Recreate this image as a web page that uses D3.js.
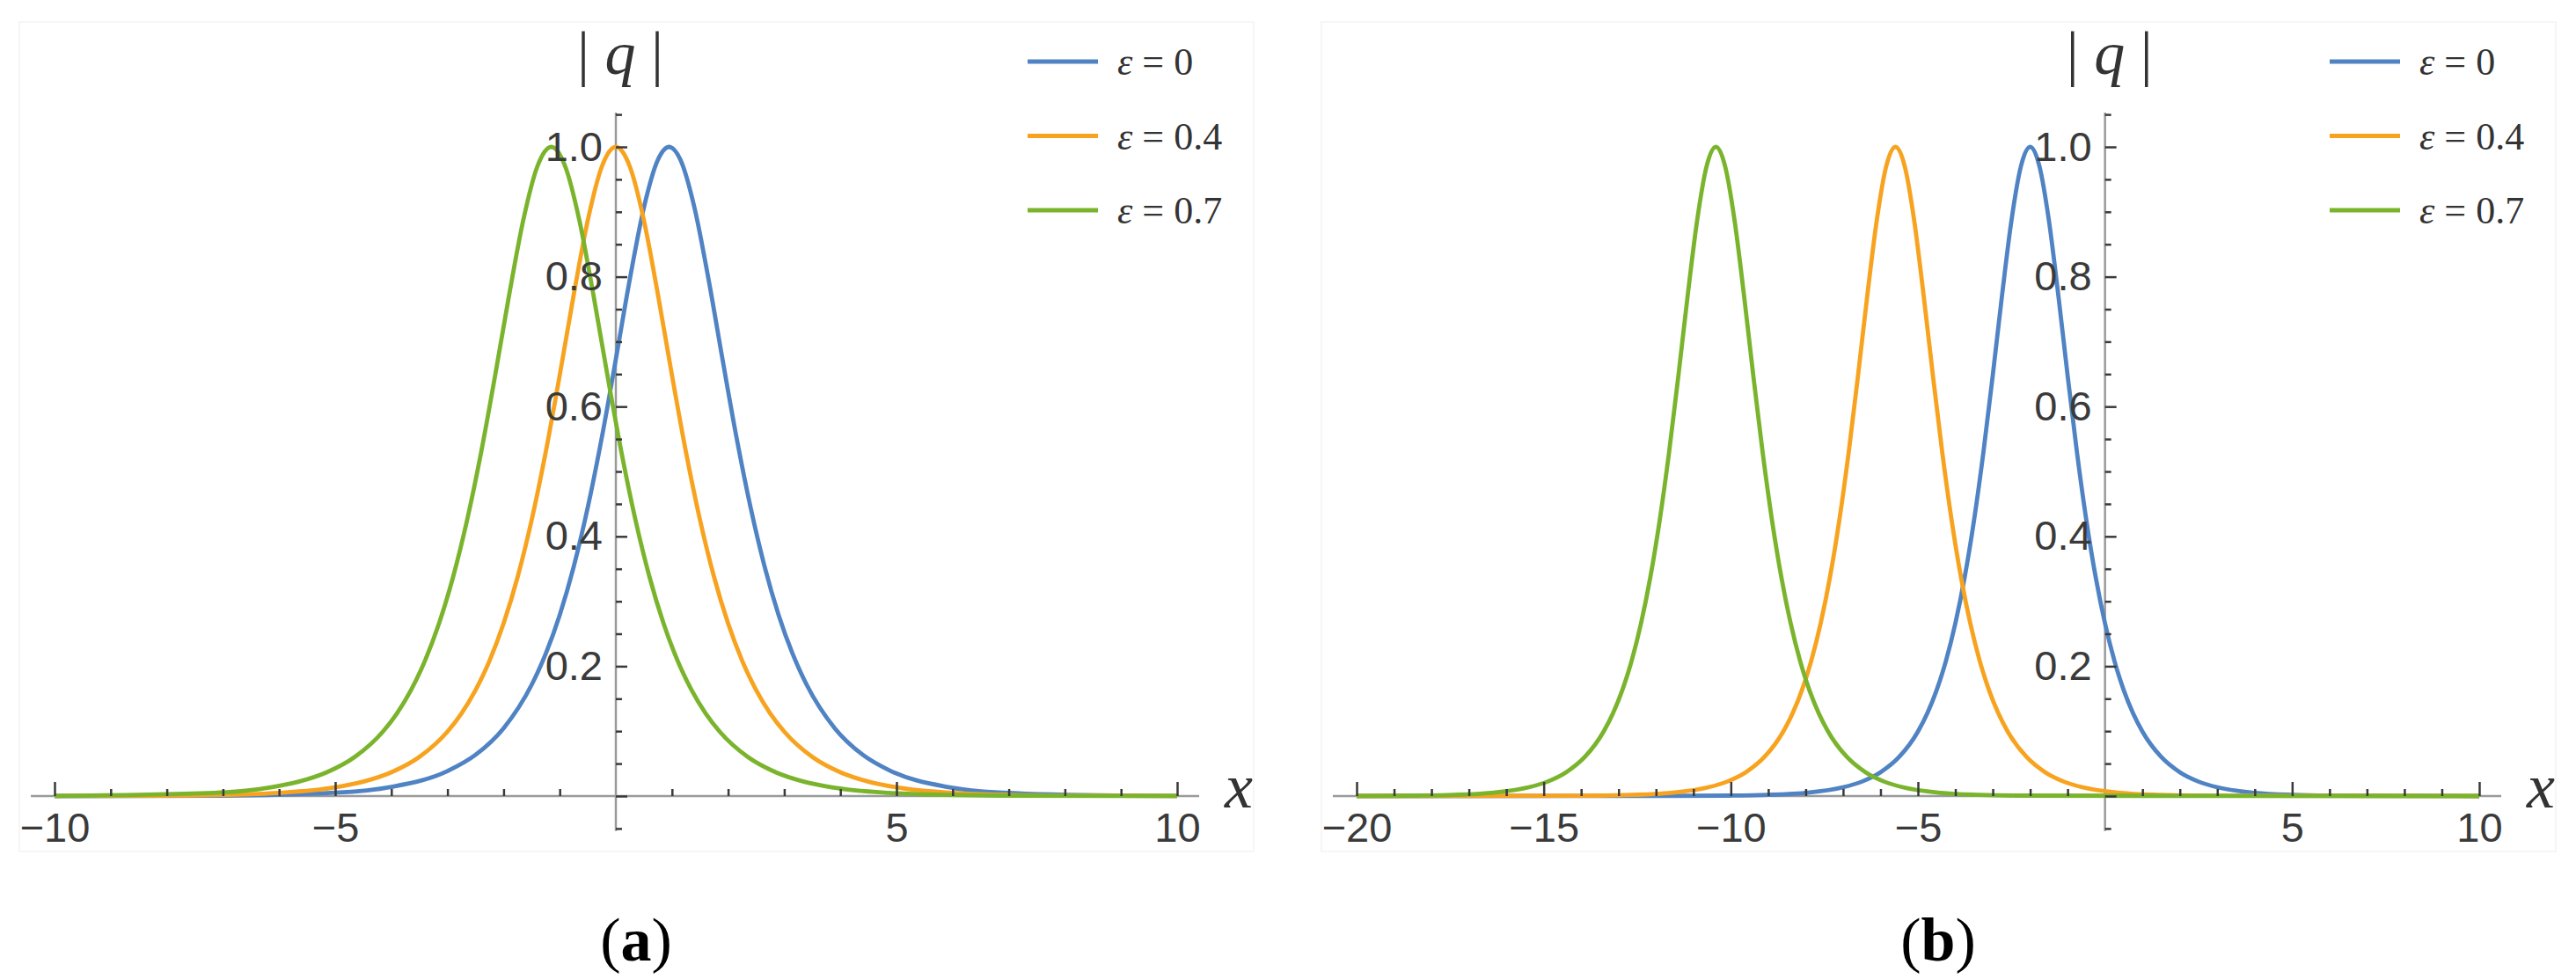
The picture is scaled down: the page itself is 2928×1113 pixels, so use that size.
<!DOCTYPE html>
<html>
<head>
<meta charset="utf-8">
<script src="https://cdn.jsdelivr.net/npm/d3@7/dist/d3.min.js"></script>
<style>
body { margin: 0; background: #fff; }
svg { display: block; background: #fff; }
</style>
</head>
<body>
<svg width="2928" height="1113"></svg>
<script>
var svg = d3.select("svg");

var epsLabels = ["0", "0.4", "0.7"];
var colors = ["#4f83c3", "#f7a31f", "#7ab42d"];
var captions = ["a", "b"];

var xTicksA = [-10, -5, 5, 10];
var xTicksB = [-20, -15, -10, -5, 5, 10];
var yTicks = [0.2, 0.4, 0.6, 0.8, 1.0];

// panel (a): |q|, [x, |q|]
var blueA = [[-10, 0], [-7, 0.0007], [-5, 0.0052], [-4, 0.0142], [-3, 0.0385], [-2.5, 0.0634], [-2, 0.1044], [-1.5, 0.1714],
  [-1.25, 0.2189], [-1, 0.2789], [-0.75, 0.3536], [-0.5, 0.4447], [-0.25, 0.5523], [0, 0.6729], [0.25, 0.7967], [0.5, 0.9066],
  [0.75, 0.9803], [0.95, 1], [1.15, 0.9803], [1.4, 0.9066], [1.65, 0.7967], [1.9, 0.6729], [2.15, 0.5523], [2.4, 0.4447],
  [2.65, 0.3536], [2.9, 0.2789], [3.15, 0.2189], [3.4, 0.1714], [3.9, 0.1044], [4.4, 0.0634], [4.9, 0.0385], [5.9, 0.0142],
  [6.9, 0.0052], [8.9, 0.0007], [10, 0.0002]];
var orangeA = [[-10, 0.0001], [-8, 0.0007], [-7, 0.0018], [-6, 0.005], [-5, 0.0135], [-4.5, 0.0222], [-4, 0.0366], [-3.5, 0.0603],
  [-3, 0.0993], [-2.75, 0.1273], [-2.5, 0.1631], [-2.25, 0.2085], [-2, 0.2658], [-1.75, 0.3374], [-1.5, 0.4251], [-1.25, 0.5295],
  [-1, 0.6481], [-0.75, 0.7724], [-0.5, 0.8868], [-0.25, 0.9695], [0, 1], [0.25, 0.9695], [0.5, 0.8868], [0.75, 0.7724],
  [1, 0.6481], [1.25, 0.5295], [1.5, 0.4251], [1.75, 0.3374], [2, 0.2658], [2.25, 0.2085], [2.5, 0.1631], [2.75, 0.1273],
  [3, 0.0993], [3.5, 0.0603], [4, 0.0366], [4.5, 0.0222], [5, 0.0135], [6, 0.005], [7, 0.0018], [8, 0.0007], [10, 0.0001]];
var greenA = [[-10, 0.0003], [-7.15, 0.005], [-6.15, 0.0135], [-5.65, 0.0222], [-5.15, 0.0366], [-4.65, 0.0603], [-4.15, 0.0993],
  [-3.9, 0.1273], [-3.65, 0.1631], [-3.4, 0.2085], [-3.15, 0.2658], [-2.9, 0.3374], [-2.65, 0.4251], [-2.4, 0.5295],
  [-2.15, 0.6481], [-1.9, 0.7724], [-1.65, 0.8868], [-1.4, 0.9695], [-1.15, 1], [-0.9, 0.9695], [-0.65, 0.8868], [-0.4, 0.7724],
  [-0.15, 0.6481], [0.1, 0.5295], [0.35, 0.4251], [0.6, 0.3374], [0.85, 0.2658], [1.1, 0.2085], [1.35, 0.1631], [1.6, 0.1273],
  [1.85, 0.0993], [2.35, 0.0603], [2.85, 0.0366], [3.35, 0.0222], [3.85, 0.0135], [4.85, 0.005], [5.85, 0.0018], [6.85, 0.0007],
  [10, 0.0001]];

// panel (b)
var blueB = [[-20, 0], [-12, 0.0001], [-10, 0.0007], [-9, 0.0018], [-8, 0.005], [-7, 0.0135], [-6.5, 0.0222], [-6, 0.0366],
  [-5.5, 0.0603], [-5, 0.0993], [-4.75, 0.1273], [-4.5, 0.1631], [-4.25, 0.2085], [-4, 0.2658], [-3.75, 0.3374], [-3.5, 0.4251],
  [-3.25, 0.5295], [-3, 0.6481], [-2.75, 0.7724], [-2.5, 0.8868], [-2.25, 0.9695], [-2, 1], [-1.75, 0.9695], [-1.5, 0.8868],
  [-1.25, 0.7724], [-1, 0.6481], [-0.75, 0.5295], [-0.5, 0.4251], [-0.25, 0.3374], [0, 0.2658], [0.25, 0.2085], [0.5, 0.1631],
  [0.75, 0.1273], [1, 0.0993], [1.5, 0.0603], [2, 0.0366], [2.5, 0.0222], [3, 0.0135], [4, 0.005], [5, 0.0018], [6, 0.0007], [10, 0]];
var orangeB = [[-20, 0], [-13.6, 0.0007], [-12.6, 0.0018], [-11.6, 0.005], [-10.6, 0.0135], [-10.1, 0.0222], [-9.6, 0.0366],
  [-9.1, 0.0603], [-8.6, 0.0993], [-8.35, 0.1273], [-8.1, 0.1631], [-7.85, 0.2085], [-7.6, 0.2658], [-7.35, 0.3374], [-7.1, 0.4251],
  [-6.85, 0.5295], [-6.6, 0.6481], [-6.35, 0.7724], [-6.1, 0.8868], [-5.85, 0.9695], [-5.6, 1], [-5.35, 0.9695], [-5.1, 0.8868],
  [-4.85, 0.7724], [-4.6, 0.6481], [-4.35, 0.5295], [-4.1, 0.4251], [-3.85, 0.3374], [-3.6, 0.2658], [-3.35, 0.2085], [-3.1, 0.1631],
  [-2.85, 0.1273], [-2.6, 0.0993], [-2.1, 0.0603], [-1.6, 0.0366], [-1.1, 0.0222], [-0.6, 0.0135], [0.4, 0.005], [1.4, 0.0018],
  [2.4, 0.0007], [10, 0]];
var greenB = [[-20, 0.0001], [-18.4, 0.0007], [-17.4, 0.0018], [-16.4, 0.005], [-15.4, 0.0135], [-14.9, 0.0222], [-14.4, 0.0366],
  [-13.9, 0.0603], [-13.4, 0.0993], [-13.15, 0.1273], [-12.9, 0.1631], [-12.65, 0.2085], [-12.4, 0.2658], [-12.15, 0.3374],
  [-11.9, 0.4251], [-11.65, 0.5295], [-11.4, 0.6481], [-11.15, 0.7724], [-10.9, 0.8868], [-10.65, 0.9695], [-10.4, 1],
  [-10.15, 0.9695], [-9.9, 0.8868], [-9.65, 0.7724], [-9.4, 0.6481], [-9.15, 0.5295], [-8.9, 0.4251], [-8.65, 0.3374],
  [-8.4, 0.2658], [-8.15, 0.2085], [-7.9, 0.1631], [-7.65, 0.1273], [-7.4, 0.0993], [-6.9, 0.0603], [-6.4, 0.0366],
  [-5.9, 0.0222], [-5.4, 0.0135], [-4.4, 0.005], [-3.4, 0.0018], [-2.4, 0.0007], [10, 0]];

var panels = [
  { series: [blueA, orangeA, greenA], xDomain: [-10, 10], xTicks: xTicksA, left: 22, x0: 62, x1: 1338 },
  { series: [blueB, orangeB, greenB], xDomain: [-20, 10], xTicks: xTicksB, left: 1502, x0: 1542, x1: 2818 }
];

var baseY = 905, topY = 167;

panels.forEach(function(p, k) {
  var g = svg.append("g");
  var x = d3.scaleLinear().domain(p.xDomain).range([p.x0, p.x1]);
  var y = d3.scaleLinear().domain([0, 1]).range([baseY, topY]);
  var ax = x(0);

  // faint frame of the plot image
  g.append("rect").attr("x", p.left).attr("y", 25).attr("width", 1403).attr("height", 943)
    .attr("fill", "none").attr("stroke", "#f3f3f3").attr("stroke-width", 1.5);

  // axis lines
  g.append("line").attr("x1", p.x0 - 27).attr("x2", p.x1 + 25).attr("y1", baseY).attr("y2", baseY)
    .attr("stroke", "#9a9a9a").attr("stroke-width", 2.5);
  g.append("line").attr("x1", ax).attr("x2", ax).attr("y1", y(1.053)).attr("y2", y(-0.054))
    .attr("stroke", "#9a9a9a").attr("stroke-width", 2.5);

  // curves
  var line = d3.line().x(function(d) { return x(d[0]); }).y(function(d) { return y(d[1]); }).curve(d3.curveMonotoneX);
  p.series.forEach(function(s, i) {
    g.append("path").datum(s).attr("d", line).attr("fill", "none")
      .attr("stroke", colors[i]).attr("stroke-width", 4.8).attr("stroke-linejoin", "round");
  });

  // x ticks
  var minorX = d3.range(p.xDomain[0], p.xDomain[1] + 1, 1).filter(function(v) { return v !== 0 && v % 5 !== 0; });
  var gxMinor = g.append("g").attr("transform", "translate(0," + baseY + ")")
    .call(d3.axisBottom(x).tickValues(minorX).tickSize(-8).tickFormat(""));
  var gx = g.append("g").attr("transform", "translate(0," + baseY + ")")
    .call(d3.axisBottom(x).tickValues(p.xTicks).tickSize(-16).tickPadding(19)
      .tickFormat(function(d) { return d < 0 ? "\u2212" + (-d) : d; }));

  // y ticks
  var minorY = d3.range(-1, 22).map(function(v) { return v * 0.05; })
    .filter(function(v) { return Math.abs(v * 5 - Math.round(v * 5)) > 1e-6; });
  var gyMinor = g.append("g").attr("transform", "translate(" + ax + ",0)")
    .call(d3.axisLeft(y).tickValues(minorY).tickSize(-7).tickFormat(""));
  var gy = g.append("g").attr("transform", "translate(" + ax + ",0)")
    .call(d3.axisLeft(y).tickValues([0].concat(yTicks)).tickSize(-13).tickPadding(15)
      .tickFormat(function(d) { return d === 0 ? "" : d3.format(".1f")(d); }));

  [gxMinor, gx, gyMinor, gy].forEach(function(a) {
    a.select(".domain").remove();
    a.selectAll("line").attr("stroke", "#3a3a3a").attr("stroke-width", 2.5);
    a.selectAll("text").attr("fill", "#3a3a3a").style("font-family", "'Liberation Sans', Arial, sans-serif")
      .style("font-size", "47px");
  });

  // axis labels
  var ql = g.append("text").attr("x", ax + 5).attr("y", 84).attr("text-anchor", "middle")
    .style("font-family", "'Liberation Serif', 'Times New Roman', serif").style("font-size", "70px").attr("fill", "#333")
    .attr("xml:space", "preserve");
  ql.append("tspan").text("| ");
  ql.append("tspan").style("font-style", "italic").text("q");
  ql.append("tspan").text(" |");

  g.append("text").attr("x", p.x1 + 54).attr("y", 918)
    .style("font-family", "'Liberation Serif', 'Times New Roman', serif").style("font-style", "italic")
    .style("font-size", "72px").attr("fill", "#333").text("x");

  // legend
  var lx = p.left + 1146;
  epsLabels.forEach(function(e, i) {
    var ly = 70 + 84.5 * i;
    g.append("line").attr("x1", lx).attr("x2", lx + 80).attr("y1", ly).attr("y2", ly)
      .attr("stroke", colors[i]).attr("stroke-width", 4.8);
    var t = g.append("text").attr("x", lx + 102).attr("y", ly + 15).attr("xml:space", "preserve")
      .style("font-family", "'Liberation Serif', 'Times New Roman', serif").style("font-size", "44px").attr("fill", "#333");
    t.append("tspan").style("font-style", "italic").text("\u03b5");
    t.append("tspan").text(" = " + e);
  });

  // caption
  var c = g.append("text").attr("x", p.left + 701).attr("y", 1092).attr("text-anchor", "middle")
    .style("font-family", "'Liberation Serif', 'Times New Roman', serif").style("font-size", "70px").attr("fill", "#000");
  c.append("tspan").text("(");
  c.append("tspan").style("font-weight", "bold").text(captions[k]);
  c.append("tspan").text(")");
});
</script>
</body>
</html>
